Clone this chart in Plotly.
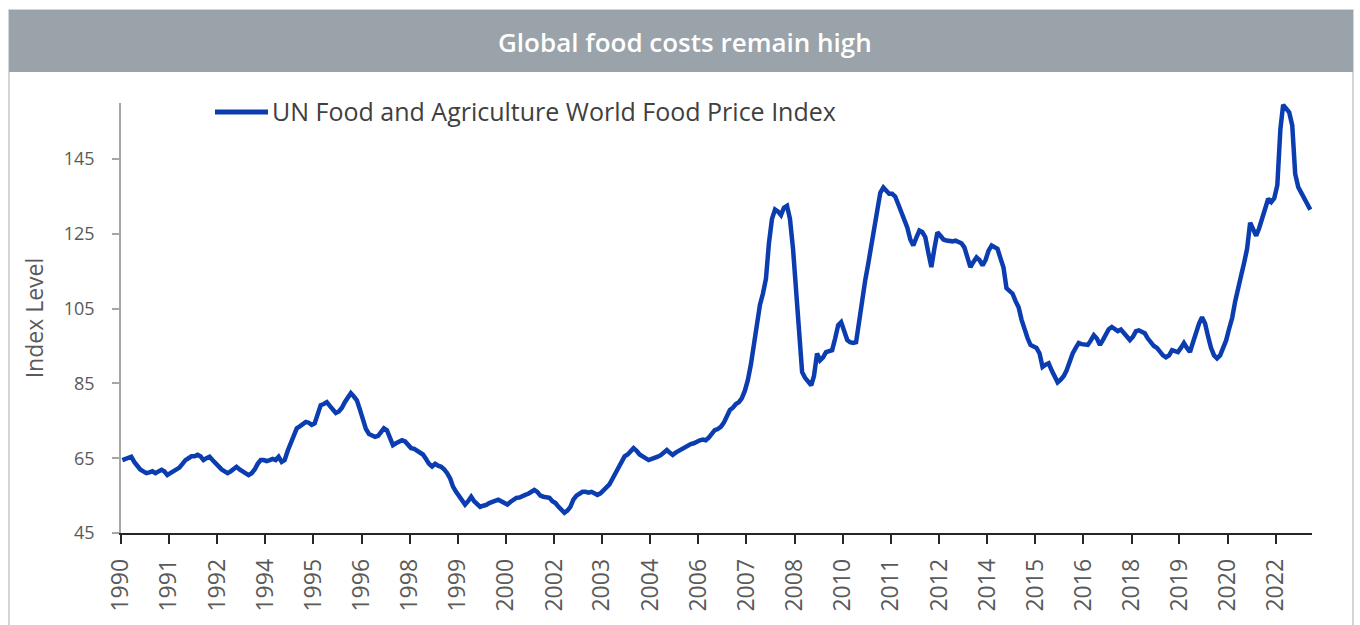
import pandas as pd
import plotly.graph_objects as go

# ---------------- data (FAO Food Price Index, monthly) ----------------
fpi_1990 = [64.5, 64.8, 65.0, 65.4, 64.0, 63.0, 62.0, 61.5, 61.0, 61.2, 61.5, 61.0]
fpi_1991 = [61.5, 61.9, 61.5, 60.5, 61.0, 61.5, 62.0, 62.5, 63.5, 64.5, 65.0, 65.5]
fpi_1992 = [65.5, 65.9, 65.5, 64.5, 65.0, 65.4, 64.5, 63.5, 62.7, 62.0, 61.5, 61.0]
fpi_1993 = [61.5, 62.2, 62.7, 62.0, 61.5, 61.0, 60.5, 61.0, 62.0, 63.5, 64.5, 64.5]
fpi_1994 = [64.2, 64.5, 64.8, 64.5, 65.4, 64.0, 64.5, 67.0, 69.0, 71.0, 73.0, 73.5]
fpi_1995 = [74.0, 74.7, 74.5, 73.9, 74.3, 76.5, 79.2, 79.5, 80.0, 79.0, 78.0, 77.1]
fpi_1996 = [77.5, 78.5, 80.0, 81.5, 82.4, 81.5, 80.5, 78.0, 75.5, 72.8, 71.5, 71.0]
fpi_1997 = [70.7, 71.0, 72.0, 73.0, 72.5, 70.5, 68.5, 69.0, 69.5, 69.8, 69.5, 68.5]
fpi_1998 = [67.7, 67.5, 67.0, 66.7, 66.0, 64.8, 63.5, 62.8, 63.5, 63.0, 62.7, 62.0]
fpi_1999 = [61.0, 59.5, 57.4, 56.0, 55.0, 53.9, 52.6, 53.5, 54.7, 53.5, 52.5, 52.0]
fpi_2000 = [52.3, 52.5, 53.0, 53.3, 53.5, 53.9, 53.5, 53.0, 52.6, 53.3, 54.0, 54.4]
fpi_2001 = [54.5, 55.0, 55.2, 55.5, 56.0, 56.5, 56.0, 55.0, 54.7, 54.5, 54.4, 53.5]
fpi_2002 = [53.0, 52.0, 51.2, 50.4, 51.0, 52.0, 53.9, 55.0, 55.5, 56.0, 56.0, 55.8]
fpi_2003 = [56.0, 55.5, 55.2, 55.6, 56.3, 57.1, 58.0, 59.5, 61.0, 62.5, 64.0, 65.5]
fpi_2004 = [66.0, 67.0, 67.7, 67.0, 66.0, 65.5, 65.0, 64.5, 64.8, 65.0, 65.4, 65.8]
fpi_2005 = [66.5, 67.2, 66.5, 65.9, 66.5, 67.0, 67.5, 68.0, 68.5, 68.8, 69.0, 69.5]
fpi_2006 = [69.8, 70.0, 69.8, 70.5, 71.5, 72.5, 72.8, 73.4, 74.5, 76.0, 77.9, 78.5]
fpi_2007 = [79.5, 80.0, 81.0, 83.0, 85.8, 90.0, 95.5, 102.0, 106.0, 109.0, 113.0, 122.5]
fpi_2008 = [129.0, 131.5, 131.0, 130.0, 132.0, 132.5, 129.0, 121.0, 110.0, 96.0, 88.0, 86.5]
fpi_2009 = [85.5, 84.5, 87.0, 93.0, 91.2, 92.0, 93.4, 93.5, 93.9, 97.0, 100.6, 101.4]
fpi_2010 = [99.0, 96.6, 96.0, 95.8, 96.0, 101.9, 107.0, 112.5, 117.0, 121.4, 126.5, 132.0]
fpi_2011 = [136.0, 137.4, 136.5, 135.7, 135.7, 135.0, 133.0, 131.0, 128.5, 126.7, 123.5, 121.9]
fpi_2012 = [124.0, 125.9, 125.5, 124.1, 120.0, 116.1, 121.0, 125.4, 124.5, 123.5, 123.2, 123.0]
fpi_2013 = [123.0, 123.2, 123.0, 122.5, 121.4, 119.0, 116.1, 117.5, 118.7, 118.0, 116.6, 118.0]
fpi_2014 = [120.5, 121.9, 121.5, 121.0, 118.5, 116.0, 110.5, 109.9, 109.0, 107.0, 105.4, 102.0]
fpi_2015 = [99.2, 97.0, 95.3, 95.0, 94.5, 93.0, 89.4, 90.0, 90.4, 88.5, 87.0, 85.3]
fpi_2016 = [86.0, 87.0, 88.5, 91.0, 93.0, 94.5, 95.8, 95.5, 95.3, 95.3, 96.5, 97.9]
fpi_2017 = [97.0, 95.3, 96.5, 98.0, 99.5, 100.1, 99.5, 99.0, 99.4, 98.5, 97.5, 96.6]
fpi_2018 = [97.5, 99.0, 99.2, 98.8, 98.4, 97.0, 95.8, 95.0, 94.5, 93.5, 92.5, 92.0]
fpi_2019 = [92.5, 93.9, 93.5, 93.4, 94.5, 95.8, 94.5, 93.4, 96.0, 99.0, 101.0, 102.7]
fpi_2020 = [101.0, 97.5, 94.5, 92.5, 91.7, 92.5, 94.5, 96.5, 99.7, 102.5, 107.0, 111.0]
fpi_2021 = [114.0, 117.5, 121.0, 128.0, 126.5, 124.5, 126.5, 129.0, 132.0, 134.4, 133.5, 134.5]
fpi_2022 = [138.0, 153.0, 159.5, 158.5, 157.5, 154.0, 141.0, 137.5, 136.0, 134.7, 133.5, 131.5]

yearly = [fpi_1990, fpi_1991, fpi_1992, fpi_1993, fpi_1994, fpi_1995, fpi_1996, fpi_1997,
          fpi_1998, fpi_1999, fpi_2000, fpi_2001, fpi_2002, fpi_2003, fpi_2004, fpi_2005,
          fpi_2006, fpi_2007, fpi_2008, fpi_2009, fpi_2010, fpi_2011, fpi_2012, fpi_2013,
          fpi_2014, fpi_2015, fpi_2016, fpi_2017, fpi_2018, fpi_2019, fpi_2020, fpi_2021,
          fpi_2022]
values = [v for year in yearly for v in year]

start_month = "1990-01-01"
label_every_months = 16
y_ticks = [45, 65, 85, 105, 125, 145]
series_name = "UN Food and Agriculture World Food Price Index"
chart_title = "Global food costs remain high"
y_title = "Index Level"

month_starts = pd.date_range(start_month, periods=len(values), freq="MS")
x_points = month_starts + pd.Timedelta(days=14)
tick_dates = month_starts[::label_every_months]
tick_text = [str(d.year) for d in tick_dates]
x_end = month_starts[-1] + pd.offsets.MonthBegin(1)

# ---------------- geometry helpers (pixel -> paper) ----------------
W, H = 1360, 625
L, R, T, B = 121, 48, 103, 92
pw, ph = W - L - R, H - T - B


def px(x):
    return (x - L) / pw


def py(y):
    return (H - B - y) / ph


BLUE = "#0b3db0"

fig = go.Figure()
fig.add_trace(go.Scatter(
    x=x_points, y=values, mode="lines", name=series_name,
    line=dict(color=BLUE, width=4.5), showlegend=False,
))

fig.update_layout(
    width=W, height=H,
    margin=dict(l=L, r=R, t=T, b=B),
    paper_bgcolor="white", plot_bgcolor="white",
    font=dict(family="Open Sans, Arial, sans-serif", color="#595959"),
    shapes=[
        # outer panel border
        dict(type="rect", xref="paper", yref="paper",
             x0=px(9), x1=px(1353), y0=py(660), y1=py(10),
             line=dict(color="#c3c9ce", width=1.5), fillcolor="rgba(0,0,0,0)", layer="below"),
        # title band
        dict(type="rect", xref="paper", yref="paper",
             x0=px(9), x1=px(1353), y0=py(72), y1=py(10),
             line=dict(width=0), fillcolor="#9aa3aa", layer="below"),
        # legend sample line
        dict(type="line", xref="paper", yref="paper",
             x0=px(215), x1=px(268), y0=py(112), y1=py(112),
             line=dict(color=BLUE, width=5)),
    ],
    annotations=[
        dict(text=chart_title, xref="paper", yref="paper", x=px(685), y=py(42),
             xanchor="center", yanchor="middle", showarrow=False,
             font=dict(family="Open Sans, sans-serif", size=26, color="white", weight=600)),
        dict(text=series_name, xref="paper", yref="paper", x=px(270), y=py(111),
             xanchor="left", yanchor="middle", showarrow=False,
             font=dict(family="Open Sans, sans-serif", size=25, color="#404040")),
    ],
)

fig.update_xaxes(
    type="date", range=[month_starts[0], x_end],
    tickmode="array", tickvals=tick_dates, ticktext=tick_text,
    tickangle=-90, tickfont=dict(size=23, color="#595959"),
    showline=True, linecolor="#262626", linewidth=1.5,
    ticks="outside", ticklen=9, tickcolor="#262626", tickwidth=1.5,
    showgrid=False, zeroline=False, ticklabelstandoff=6,
)
fig.update_yaxes(
    range=[45, 160], tickmode="array", tickvals=y_ticks,
    tickfont=dict(size=18, color="#595959"),
    showline=True, linecolor="#a6a6a6", linewidth=1.5,
    ticks="outside", ticklen=7, tickcolor="#a6a6a6", tickwidth=1.5,
    showgrid=False, zeroline=False, ticklabelstandoff=14,
    title=dict(text=y_title, font=dict(size=23, color="#595959"), standoff=14),
)

fig.write_html("out.html")
